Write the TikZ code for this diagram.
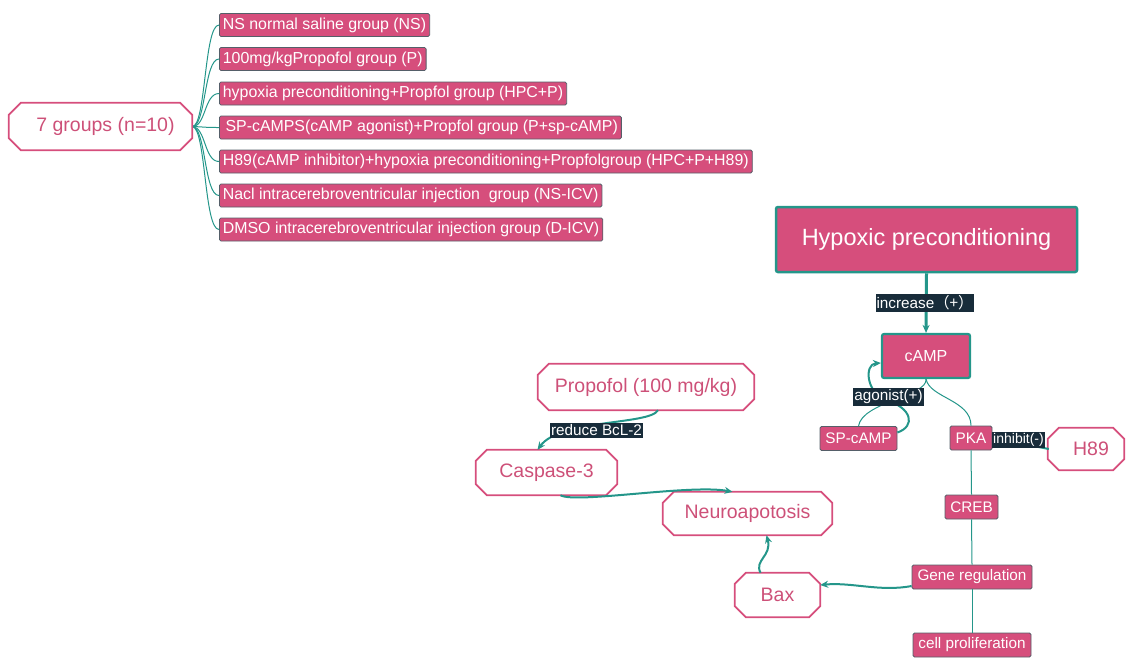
\documentclass[tikz,border=0pt]{standalone}
\usepackage{fontspec}
\setmainfont{Liberation Sans}
\newfontfamily\cjk{Noto Sans CJK SC}
\usetikzlibrary{arrows.meta}
\definecolor{pinkc}{RGB}{214,78,124}
\definecolor{tealc}{RGB}{36,150,138}
\definecolor{labbg}{RGB}{24,44,58}
\definecolor{boxedge}{RGB}{85,95,105}
\definecolor{octtext}{RGB}{205,80,120}
\tikzset{
  grp/.style={fill=pinkc, draw=boxedge, line width=0.8pt, rounded corners=1.5pt, text=white,
    font=\fontsize{15.9}{18}\selectfont, inner xsep=3.5pt, inner ysep=0pt, minimum height=23pt, anchor=west},
  pbox/.style={fill=pinkc, draw=boxedge, line width=0.8pt, rounded corners=1.5pt, text=white,
    font=\fontsize{15.3}{17}\selectfont, inner xsep=3pt, inner ysep=0pt, minimum height=24pt},
  bigbox/.style={fill=pinkc, draw=tealc, rounded corners=2pt, text=white, inner sep=0pt},
  octo/.style={rectangle, inner sep=0pt, text=octtext, font=\fontsize{19.5}{22}\selectfont},
  octline/.style={draw=pinkc, line width=1.8pt, line join=miter},
  lab/.style={fill=labbg, text=white, font=\fontsize{15.3}{17}\selectfont, inner xsep=1pt, inner ysep=1.5pt},
  thin/.style={draw=tealc, line width=1pt},
  thick/.style={draw=tealc, line width=2pt, -{Stealth[length=8pt,width=7pt]}},
}
\newcommand\octdraw[2]{%
  \draw[octline] ([xshift=#2]#1.north west) -- ([xshift=-#2]#1.north east)
    -- ([yshift=-#2]#1.north east) -- ([yshift=#2]#1.south east)
    -- ([xshift=-#2]#1.south east) -- ([xshift=#2]#1.south west)
    -- ([yshift=#2]#1.south west) -- ([yshift=-#2]#1.north west) -- cycle;}
\begin{document}
\begin{tikzpicture}[x=1pt,y=-1pt]
\useasboundingbox (0,0) rectangle (1129,657);
% root and groups
\node[octo, minimum width=183pt, minimum height=47pt] (root) at (100.5,126.5) {\hspace{10pt}7 groups (n=10)};
\node[grp] (g1) at (219,25) {NS normal saline group (NS)};
\node[grp] (g2) at (219,59) {100mg/kgPropofol group (P)};
\node[grp] (g3) at (219,93.5) {hypoxia preconditioning+Propfol group (HPC+P)};
\node[grp] (g4) at (219,127.5) {\,SP-cAMPS(cAMP agonist)+Propfol group (P+sp-cAMP)};
\node[grp] (g5) at (219,161.5) {H89(cAMP inhibitor)+hypoxia preconditioning+Propfolgroup (HPC+P+H89)};
\node[grp] (g6) at (219,195.5) {Nacl intracerebroventricular injection\ \ group (NS-ICV)};
\node[grp] (g7) at (219,229.5) {DMSO intracerebroventricular injection group (D-ICV)};
\foreach \g/\y in {g1/25,g2/59,g3/93.5,g4/127.5,g5/161.5,g6/195.5,g7/229.5}{
  \draw[thin] (root.east) .. controls (206,127) and (204,\y) .. (\g.west);
}
% right pathway
\node[bigbox, line width=2.5pt, minimum width=301pt, minimum height=65pt,
  font=\fontsize{23.5}{26}\selectfont] (hp) at (926.5,239.5) {Hypoxic preconditioning};
\node[bigbox, line width=2.2pt, minimum width=88pt, minimum height=44pt,
  font=\fontsize{16}{18}\selectfont] (camp) at (926,356) {cAMP};
\node[pbox, minimum width=77pt] (sp) at (858.5,438.5) {SP-cAMP};
\node[pbox, minimum width=42pt] (pka) at (971,438) {PKA};
\node[octo, minimum width=76pt, minimum height=42pt] (h89) at (1086,449) {\hspace{10pt}H89};
\node[pbox, minimum width=53pt] (creb) at (971.5,507) {CREB};
\node[pbox, minimum width=120pt] (gene) at (972,577) {Gene regulation};
\node[pbox, minimum width=118pt] (cell) at (972,645) {cell proliferation};
\node[octo, minimum width=85pt, minimum height=44pt] (bax) at (777.5,595) {Bax};
\node[octo, minimum width=169pt, minimum height=43pt] (neuro) at (747.5,513.5) {Neuroapotosis};
\node[octo, minimum width=141pt, minimum height=45pt] (casp) at (546.5,472.5) {Caspase-3};
\node[octo, minimum width=216pt, minimum height=46pt] (prop) at (646,387) {Propofol (100 mg/kg)};
\octdraw{root}{12pt}
\octdraw{h89}{11pt}
\octdraw{bax}{11pt}
\octdraw{neuro}{11pt}
\octdraw{casp}{11pt}
\octdraw{prop}{11pt}
% tree lines
\draw[thin] (camp.south) .. controls (928,396) and (862,402) .. (sp.north);
\draw[thin] (camp.south) .. controls (930,398) and (971,400) .. (pka.north);
\draw[thin] (pka.south) -- (creb.north);
\draw[thin] (creb.south) -- (gene.north);
\draw[thin] (gene.south) -- (cell.north);
% relations
\draw[thick, line width=3pt] (hp.south) -- (camp.north);
\node[lab] (l1) at (925,303) {increase{\cjk （+）}};
\draw[thick] ([yshift=6pt]sp.east) .. controls (916,426) and (912,408) .. (886,400)
   .. controls (866,393) and (864,364) .. ([yshift=-7pt]camp.west);
\node[lab] (l2) at (888.5,397) {agonist(+)};
\draw[tealc, line width=2pt] ([xshift=1pt]h89.west) -- (pka.east);
\node[lab, font=\fontsize{14}{16}\selectfont] (l3) at (1018.5,440) {inhibit(-)};
\draw[thick] ([yshift=-9pt]gene.west) .. controls (880,592) and (852,582) .. ([yshift=10pt]bax.east);
\draw[thick] ([xshift=-17pt]bax.north) .. controls (754,560) and (772,556) .. ([xshift=19pt]neuro.south);
\draw[thick] ([xshift=14pt]casp.south) .. controls (575,504) and (690,484) .. ([xshift=-15pt]neuro.north);
\draw[thick] ([xshift=12pt]prop.south) .. controls (650,425) and (560,419) .. ([xshift=-9pt]casp.north);
\node[lab] (l4) at (596.5,430.5) {reduce BcL-2};
\end{tikzpicture}
\end{document}
